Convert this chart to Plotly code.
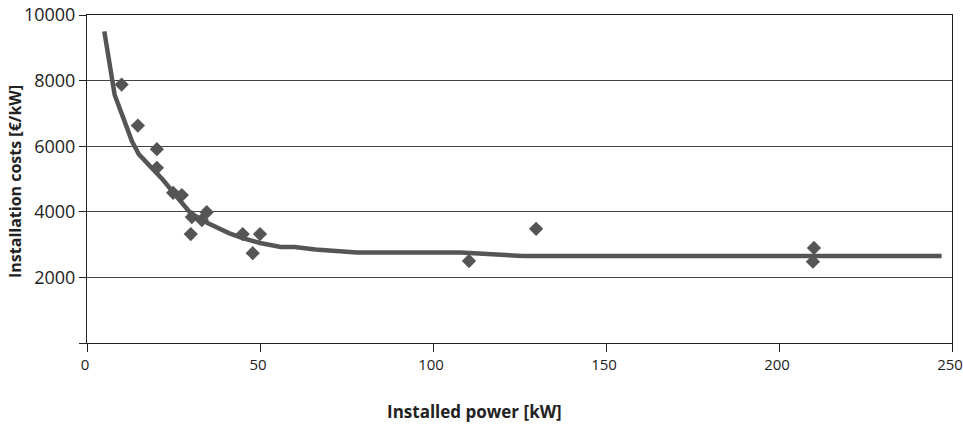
import plotly.graph_objects as go

# Measured data points (installed power kW, installation cost €/kW)
power_kw = [10, 14.7, 20.2, 20.2, 24.9, 27.4, 30.3, 30, 33.2, 34.6, 45, 47.9, 50, 110.4, 129.8, 210.1, 209.8]
cost_eur_kw = [7880, 6630, 5910, 5340, 4580, 4510, 3840, 3320, 3750, 3990, 3320, 2740, 3320, 2500, 3480, 2900, 2480]

# Fitted cost curve
fit_power = [5, 8, 10, 13, 15, 20, 22, 25, 30, 35, 41, 45, 50, 56, 60, 66, 78, 108, 126, 247]
fit_cost = [9500, 7560, 7000, 6150, 5750, 5200, 4970, 4580, 3950, 3650, 3350, 3200, 3050, 2930, 2930, 2850, 2760, 2760, 2650, 2650]

x_ticks = [0, 50, 100, 150, 200, 250]
y_ticks = [2000, 4000, 6000, 8000, 10000]

color = "#555555"
font_family = "Open Sans, sans-serif"

fig = go.Figure()
fig.add_trace(go.Scatter(
    x=fit_power, y=fit_cost, mode="lines",
    line=dict(color=color, width=4.5), showlegend=False, hoverinfo="skip",
))
fig.add_trace(go.Scatter(
    x=power_kw, y=cost_eur_kw, mode="markers",
    marker=dict(symbol="diamond", size=11, color=color), showlegend=False,
))

fig.update_layout(
    width=963, height=425,
    margin=dict(l=87, r=11, t=15, b=82),
    paper_bgcolor="white", plot_bgcolor="white",
    font=dict(family=font_family, color="#222222", size=16),
    xaxis=dict(
        range=[0, 250], tickvals=x_ticks, ticktext=[str(v) for v in x_ticks],
        showgrid=False, zeroline=False, automargin=False,
        showline=True, linecolor="#222222", linewidth=1, mirror=True,
        ticks="outside", ticklen=8, tickcolor="#222222",
        tickfont=dict(size=15), ticklabeloverflow="allow", ticklabelshift=-2,
    ),
    yaxis=dict(
        range=[0, 10000], tickvals=[0] + y_ticks, ticktext=[""] + [str(v) for v in y_ticks],
        showgrid=True, gridcolor="#444444", gridwidth=1, zeroline=False, automargin=False,
        showline=True, linecolor="#222222", linewidth=1, mirror=True,
        ticks="outside", ticklen=7, tickcolor="#222222",
        tickfont=dict(size=18), ticklabeloverflow="allow",
    ),
    annotations=[
        dict(text="<b>Installed power [kW]</b>", xref="paper", yref="paper",
             x=0.4474, y=-0.21, xanchor="center", yanchor="middle",
             showarrow=False, font=dict(size=17)),
        dict(text="<b>Installation costs [€/kW]</b>", xref="paper", yref="paper",
             x=-0.0832, y=0.491, xanchor="center", yanchor="middle", textangle=-90,
             showarrow=False, font=dict(size=16)),
    ],
)

fig.write_html("out.html", config={"displayModeBar": False},
               post_script="document.body.style.margin='0';")
